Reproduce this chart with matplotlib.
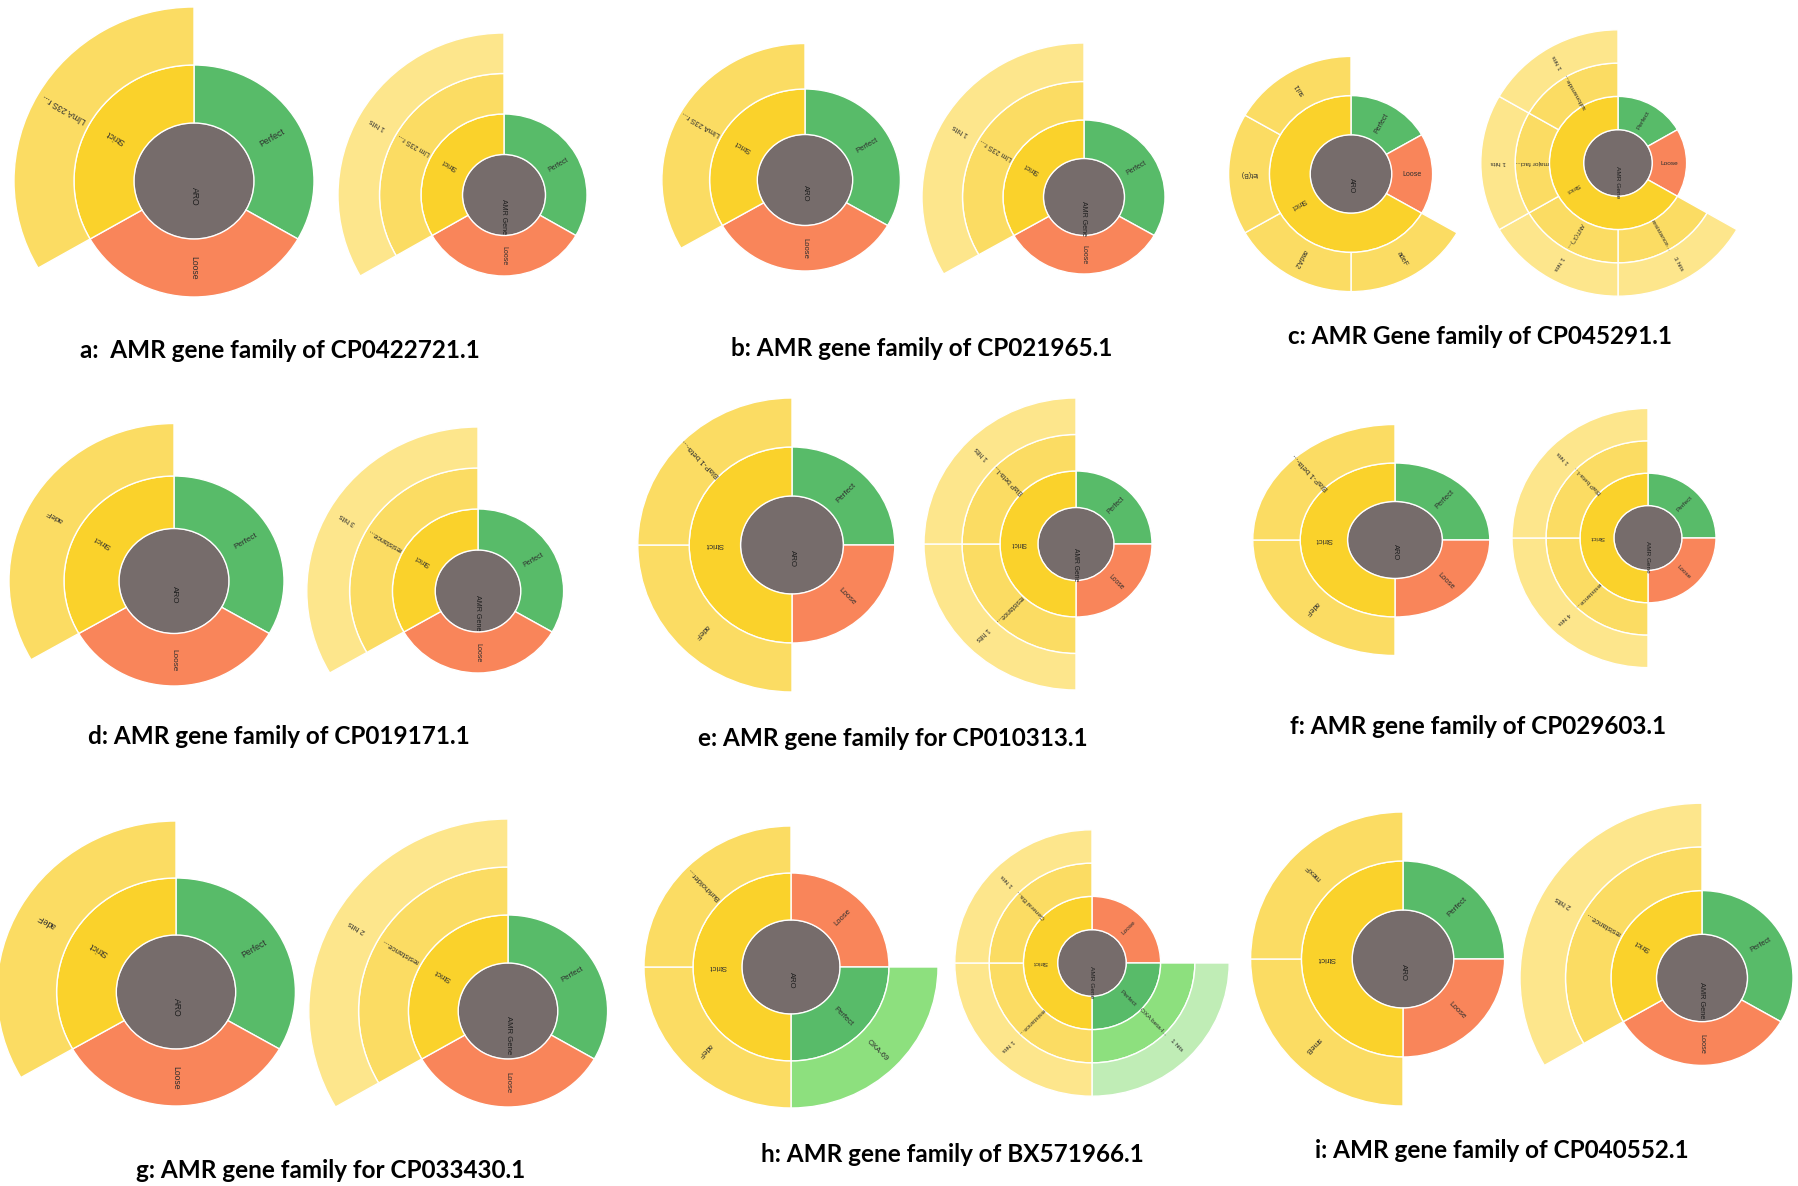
import numpy as np
import matplotlib.pyplot as plt

# ---------------------------------------------------------------- data
titles = [
    "a:  AMR gene family of CP0422721.1",
    "b: AMR gene family of CP021965.1",
    "c: AMR Gene family of CP045291.1",
    "d: AMR gene family of CP019171.1",
    "e: AMR gene family for CP010313.1",
    "f: AMR gene family of CP029603.1",
    "g: AMR gene family for CP033430.1",
    "h: AMR gene family of BX571966.1",
    "i: AMR gene family of CP040552.1",
]

# left chart of every pair: ARO -> criterion -> ARO term
# segments listed clockwise from 12 o'clock, None = empty part of a ring
aro_criteria = [
    ["Perfect", "Loose", "Strict"],
    ["Perfect", "Loose", "Strict"],
    ["Perfect", "Loose", "Strict"],
    ["Perfect", "Loose", "Strict"],
    ["Perfect", "Loose", "Strict"],
    ["Perfect", "Loose", "Strict"],
    ["Perfect", "Loose", "Strict"],
    ["Loose", "Perfect", "Strict"],
    ["Perfect", "Loose", "Strict"],
]
aro_criteria_n = [[1, 1, 1], [1, 1, 1], [1, 1, 4], [1, 1, 1], [1, 1, 2],
                  [1, 1, 2], [1, 1, 1], [1, 1, 2], [1, 1, 2]]
aro_terms = [
    [None, None, "LlmA 23S r..."],
    [None, None, "LlmA 23S r..."],
    [None, None, "adeF", "aadA2", "tet(B)", "sul1"],
    [None, None, "adeF"],
    [None, None, "adeF", "BlaP-1 beta-..."],
    [None, None, "adeF", "BlaP-1 beta-..."],
    [None, None, "adeF"],
    [None, "OXA-69", "adeF", "Burkholder..."],
    [None, None, "smeB", "mexF"],
]
aro_terms_n = [[1, 1, 1], [1, 1, 1], [1, 1, 1, 1, 1, 1], [1, 1, 1], [1, 1, 1, 1],
               [1, 1, 1, 1], [1, 1, 1], [1, 1, 1, 1], [1, 1, 1, 1]]

# right chart of every pair: AMR Gene -> criterion -> gene family -> hits
amr_criteria = aro_criteria
amr_criteria_n = [[1, 1, 1], [1, 1, 1], [1, 1, 4], [1, 1, 1], [1, 1, 2],
                  [1, 1, 2], [1, 1, 1], [1, 1, 2], [1, 1, 1]]
amr_families = [
    [None, None, "Llm 23S r..."],
    [None, None, "Llm 23S r..."],
    [None, None, "resistance...", "ANT(3'')...", "major faci...", "sulfonamide..."],
    [None, None, "resistance..."],
    [None, None, "resistance...", "BlaP beta-l..."],
    [None, None, "resistance...", "BlaP beta-l..."],
    [None, None, "resistance..."],
    [None, "OXA beta-l...", "resistance...", "General Ba..."],
    [None, None, "resistance..."],
]
amr_families_n = [[1, 1, 1], [1, 1, 1], [1, 1, 1, 1, 1, 1], [1, 1, 1], [1, 1, 1, 1],
                  [1, 1, 1, 1], [1, 1, 1], [1, 1, 1, 1], [1, 1, 1]]
amr_hits = [
    [None, None, "1 hits"],
    [None, None, "1 hits"],
    [None, None, "3 hits", "1 hits", "1 hits", "1 hits"],
    [None, None, "3 hits"],
    [None, None, "1 hits", "1 hits"],
    [None, None, "4 hits", "1 hits"],
    [None, None, "2 hits"],
    [None, "1 hits", "1 hits", "1 hits"],
    [None, None, "2 hits"],
]

# ---------------------------------------------------------------- layout (pixels)
W, H = 1798, 1186
# centre x, centre y, ring width x, ring width y
left_pos = [(194, 181, 60, 58), (805, 180, 47.7, 45.5), (1351, 174, 40.8, 39.2),
            (174, 581, 55, 52.5), (792, 545, 51.4, 49), (1395, 540, 47.4, 38.5),
            (176, 992, 59.7, 57), (791, 967, 49, 47), (1403, 959, 50.8, 49)]
right_pos = [(504, 195, 41.5, 40.5), (1084, 197, 40.5, 38.5), (1618, 163, 34.3, 33.3),
             (478, 591, 42.8, 41), (1076, 544, 38, 36.5), (1648, 538, 34, 32.4),
             (508, 1011, 49.8, 48), (1092, 963, 34.3, 33.3), (1702, 978, 45.5, 43.7)]
right_clip = [None, None, None, None, None, None, None, 1219, None]
title_pos = [(280, 351), (922, 348), (1480, 337), (279, 736), (893, 738),
             (1478, 726), (331, 1171), (952, 1155), (1502, 1151)]

GREY = "#766c6b"
SHADES = {
    "Perfect": ["#58bb69", "#8de07e", "#c0edb6"],
    "Loose": ["#f9855a", "#fba07f", "#fcbca5"],
    "Strict": ["#fad22b", "#fbdc63", "#fde68c"],
}

fig = plt.figure(figsize=(W / 100, H / 100), dpi=100)


def parents(crit, crit_n, seg_n):
    # criterion under the middle of each outer segment
    bounds = np.cumsum(crit_n) / sum(crit_n)
    total = sum(seg_n)
    out, start = [], 0
    for v in seg_n:
        out.append(crit[np.searchsorted(bounds, (start + v / 2) / total)])
        start += v
    return out


def sunburst(pos, centre, rings, clip=None):
    cx, cy, ux, uy = pos
    n = len(rings) + 1
    right = cx + n * ux if clip is None else clip
    ax = fig.add_axes([(cx - n * ux) / W, 1 - (cy + n * uy) / H,
                       (right - cx + n * ux) / W, 2 * n * uy / H])
    fs = min(6.2, 2.6 + 0.06 * ux)
    txt = dict(fontsize=fs, family="Liberation Sans", rotation_mode="anchor",
               va="center")
    ax.pie([1], radius=1, colors=[GREY],
           wedgeprops=dict(edgecolor="#dddddd", linewidth=0.8))
    ax.text(0, -0.1, centre, rotation=270, ha="left", color="#1e1e1e", **txt)
    for depth, (labels, vals, groups) in enumerate(rings, start=1):
        cols = [SHADES[g][depth - 1] for g in groups]
        wedges, _ = ax.pie(vals, radius=depth + 1, colors=cols, startangle=90,
                           counterclock=False,
                           wedgeprops=dict(width=1, edgecolor="white", linewidth=1))
        for w, lab in zip(wedges, labels):
            if lab is None:
                w.set_visible(False)
                continue
            mid = (w.theta1 + w.theta2) / 2
            r = depth + 0.5
            ax.text(r * np.cos(np.deg2rad(mid)), r * np.sin(np.deg2rad(mid)), lab,
                    rotation=mid % 360, ha="center", color="#2e2e2e", **txt)
    ax.set_xlim(-n, (right - cx) / ux)
    ax.set_ylim(-n, n)
    ax.set_aspect("auto")
    ax.axis("off")


for k in range(9):
    crit = aro_criteria[k]
    sunburst(left_pos[k], "ARO", [
        (crit, aro_criteria_n[k], crit),
        (aro_terms[k], aro_terms_n[k], parents(crit, aro_criteria_n[k], aro_terms_n[k])),
    ])
    crit = amr_criteria[k]
    fam_par = parents(crit, amr_criteria_n[k], amr_families_n[k])
    sunburst(right_pos[k], "AMR Gene", [
        (crit, amr_criteria_n[k], crit),
        (amr_families[k], amr_families_n[k], fam_par),
        (amr_hits[k], amr_families_n[k], fam_par),
    ], clip=right_clip[k])
    x, y = title_pos[k]
    fig.text(x / W, 1 - y / H, titles[k], ha="center", va="center",
             fontsize=17.5, fontweight="bold", family="Lato")

fig.savefig("out.png", dpi=100)
